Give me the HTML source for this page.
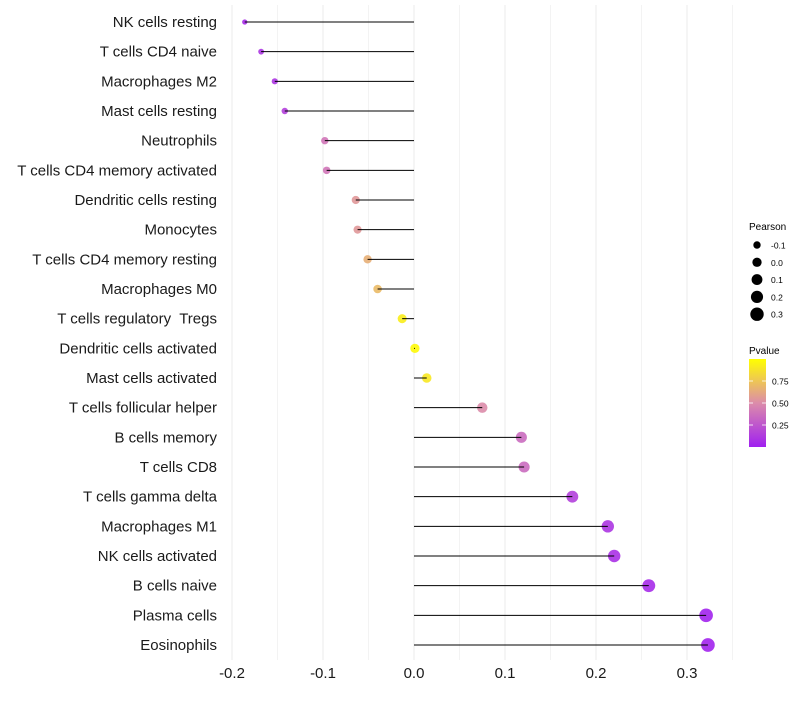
<!DOCTYPE html>
<html><head><meta charset="utf-8"><style>
body{margin:0;background:#fff;font-family:"Liberation Sans",sans-serif}
svg text{font-family:"Liberation Sans",sans-serif;white-space:pre}
</style></head><body>
<svg id="c" width="800" height="700" xmlns="http://www.w3.org/2000/svg">
<defs><linearGradient id="pg" x1="0" y1="1" x2="0" y2="0">
<stop offset="0" stop-color="rgb(160,32,240)"/><stop offset="0.5" stop-color="rgb(220,140,170)"/><stop offset="1" stop-color="rgb(255,255,0)"/></linearGradient></defs>
<g id="grid"></g><g id="dots"></g><g id="stems"></g><g id="ylab"></g><g id="xlab"></g>
<g>
<text x="749" y="230" font-size="10">Pearson</text>
<g id="sizeleg"></g>
</g>
<g>
<text x="749" y="354" font-size="10">Pvalue</text>
<rect x="749" y="359" width="17" height="88" fill="url(#pg)"/>
<g id="cbticks"></g>
</g>
</svg>
<script>
const categories=["NK cells resting","T cells CD4 naive","Macrophages M2","Mast cells resting","Neutrophils","T cells CD4 memory activated","Dendritic cells resting","Monocytes","T cells CD4 memory resting","Macrophages M0","T cells regulatory  Tregs","Dendritic cells activated","Mast cells activated","T cells follicular helper","B cells memory","T cells CD8","T cells gamma delta","Macrophages M1","NK cells activated","B cells naive","Plasma cells","Eosinophils"];
const pearson=[-0.186,-0.168,-0.153,-0.142,-0.098,-0.096,-0.064,-0.062,-0.051,-0.040,-0.013,0.001,0.014,0.075,0.118,0.121,0.174,0.213,0.220,0.258,0.321,0.323];
const pvalue=[0.05,0.1,0.1,0.15,0.4,0.4,0.55,0.55,0.65,0.7,0.92,0.98,0.9,0.5,0.35,0.35,0.15,0.1,0.08,0.05,0.02,0.02];
const xTicks=[-0.2,-0.1,0.0,0.1,0.2,0.3];
const xTickLabels=["-0.2","-0.1","0.0","0.1","0.2","0.3"];
const sizeLegVals=[-0.1,0.0,0.1,0.2,0.3];
const sizeLegLabels=["-0.1","0.0","0.1","0.2","0.3"];
const cbVals=[0.25,0.5,0.75];
const cbLabels=["0.25","0.50","0.75"];
const NS="http://www.w3.org/2000/svg";
const X=v=>414+v*910;
const Y=i=>22+i*(623/21);
const R=v=>Math.sqrt(Math.max(2,21.5+78*v));
const CB=p=>447-p*88;
function col(p){const a=[160,32,240],m=[220,140,170],b=[255,255,0];let c1,c2,t;
 if(p<0.5){c1=a;c2=m;t=p/0.5}else{c1=m;c2=b;t=(p-0.5)/0.5}
 return `rgb(${c1.map((v,k)=>Math.round(v+(c2[k]-v)*t)).join(",")})`;}
function mk(t,a,p){const e=document.createElementNS(NS,t);for(const k in a)e.setAttribute(k,a[k]);p.appendChild(e);return e;}
const grid=document.getElementById('grid');
for(let v=-0.2;v<=0.351;v+=0.05){
 const g=mk('line',{x1:X(v),x2:X(v),y1:5,y2:660,stroke:'#ebebeb','stroke-width':Math.abs(Math.round(v*20)%2)?0.6:1},grid);
 
 
}
const dots=document.getElementById('dots'),stems=document.getElementById('stems'),ylab=document.getElementById('ylab');
categories.forEach((c,i)=>{
 const d=mk('circle',{cx:X(pearson[i]),cy:Y(i),r:R(pearson[i]),fill:col(pvalue[i]),'fill-opacity':0.9},dots);
 
 
 const l=mk('line',{x1:X(0),x2:X(pearson[i]),y1:Y(i),y2:Y(i),stroke:'#000','stroke-width':1},stems);
 
 
 const t=mk('text',{x:217,y:Y(i)+5,'text-anchor':'end','font-size':15,fill:'#1a1a1a'},ylab);
 t.textContent=c;
 
 
});
const xlab=document.getElementById('xlab');
xTicks.forEach((v,i)=>{
 const t=mk('text',{x:X(v),y:678,'text-anchor':'middle','font-size':15,fill:'#1a1a1a'},xlab);
 t.textContent=xTickLabels[i];
 
 
});
const sl=document.getElementById('sizeleg');
sizeLegVals.forEach((v,i)=>{
 const y=245+i*17.3;
 const c=mk('circle',{cx:757,cy:y,r:R(v)},sl);
 
 
 const t=mk('text',{x:771,y:y+3.5,'font-size':8.5},sl);
 t.textContent=sizeLegLabels[i];
 
 
});
const cb=document.getElementById('cbticks');
cbVals.forEach((v,i)=>{
 const l=mk('line',{x1:749,x2:753,y1:CB(v),y2:CB(v),stroke:'#fff','stroke-width':0.8},cb);
 
 
 const l2=mk('line',{x1:762,x2:766,y1:CB(v),y2:CB(v),stroke:'#fff','stroke-width':0.8},cb);
 
 
 const t=mk('text',{x:772,y:CB(v)+3.5,'font-size':8.5},cb);
 t.textContent=cbLabels[i];
 
 
});
</script>
</body></html>
